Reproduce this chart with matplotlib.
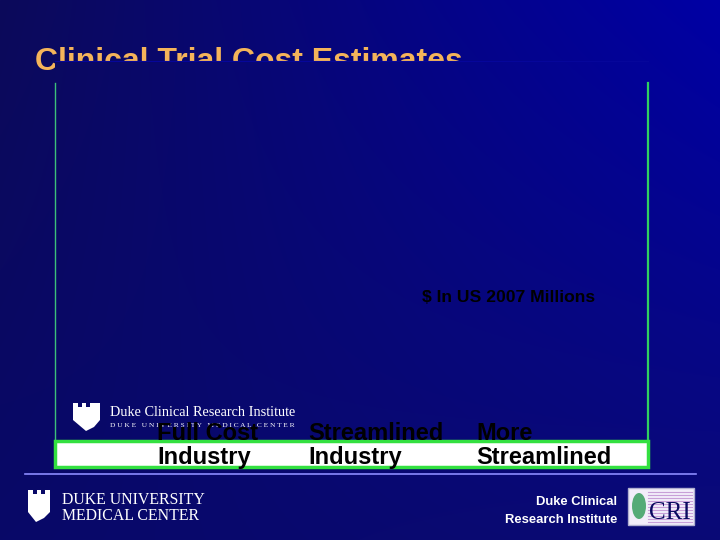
import numpy as np
import matplotlib
matplotlib.use("Agg")
import matplotlib.pyplot as plt
from matplotlib.patches import Rectangle, Polygon, Ellipse

plt.rcParams['font.family'] = ['Liberation Sans', 'DejaVu Sans']

# chart content
title = "Clinical Trial Cost Estimates"
categories = ["Full Cost\nIndustry", "Streamlined\nIndustry", "More\nStreamlined"]
unit_label = "$ In US 2007 Millions"

W, H = 720, 540
fig = plt.figure(figsize=(7.2, 5.4), dpi=100)

# background slide, pixel coordinates
bg = fig.add_axes([0, 0, 1, 1], zorder=-5)
bg.set_xlim(0, W)
bg.set_ylim(H, 0)
bg.axis("off")

# blue gradient (top-left dark, right brighter), one value per pixel
tl = np.array([12, 10, 90]) / 255
tr = np.array([0, 0, 165]) / 255
bl = np.array([8, 8, 104]) / 255
br = np.array([10, 10, 118]) / 255
gx = np.linspace(0, 1, W)[None, :, None]
gy = np.linspace(0, 1, H)[:, None, None]
grad = (tl * (1 - gx) + tr * gx) * (1 - gy) + (bl * (1 - gx) + br * gx) * gy
bg.imshow(grad, extent=(0, W, H, 0), aspect="auto", interpolation="nearest", zorder=0)

# title, partly covered by the chart panel
bg.text(35, 70, title, color="#f4b45a", fontsize=23, fontweight="bold",
        ha="left", va="baseline", zorder=2)

# chart panel: same gradient, opaque, drawn over the title
x0, x1, y0, y1 = 55, 648, 61, 468
bg.imshow(grad[y0:y1, x0:x1], extent=(x0, x1, y1, y0), aspect="auto",
          interpolation="nearest", zorder=3)
bg.plot([x0, x1], [y0, y0], color="#06069a", lw=0.8, zorder=4)

# green border and white strip
bg.plot([x0, x0], [83, 441], color="#3cc07a", lw=1.0, zorder=4)
bg.plot([x1, x1], [83, 441], color="#30d060", lw=1.6, zorder=4)
bg.add_patch(Rectangle((x0, 441), x1 - x0, 26, facecolor="white",
                       edgecolor="#33e040", lw=2.5, zorder=4))

# inner logo
shield = [(73, 403), (78, 403), (78, 407), (82, 407), (82, 403), (86, 403), (86, 407),
          (90, 407), (90, 403), (100, 403), (100, 420), (94, 427), (86, 431), (73, 420)]
bg.add_patch(Polygon(shield, closed=True, facecolor="white", edgecolor="none", zorder=4))
bg.text(110, 416, "Duke Clinical Research Institute", family="Liberation Serif",
        color="white", fontsize=10.3, ha="left", va="baseline", zorder=5)
bg.text(110, 427, "D U K E   U N I V E R S I T Y   M E D I C A L   C E N T E R",
        family="Liberation Serif", color="white", fontsize=5.3, ha="left",
        va="baseline", zorder=5)

# footer
bg.plot([25, 696], [474, 474], color="#8c8cff", lw=1.2, zorder=4)
shield2 = [(28, 490), (33, 490), (33, 494), (37, 494), (37, 490), (41, 490), (41, 494),
           (45, 494), (45, 490), (50, 490), (50, 512), (44, 518), (36, 522), (28, 512)]
bg.add_patch(Polygon(shield2, closed=True, facecolor="white", edgecolor="none", zorder=4))
bg.text(62, 504, "DUKE UNIVERSITY", family="Liberation Serif", color="white",
        fontsize=11.4, ha="left", va="baseline", zorder=5)
bg.text(62, 520, "MEDICAL CENTER", family="Liberation Serif", color="white",
        fontsize=11.4, ha="left", va="baseline", zorder=5)
bg.text(617, 505, "Duke Clinical", color="white", fontsize=9.4, fontweight="bold",
        ha="right", va="baseline", zorder=5)
bg.text(617, 523, "Research Institute", color="white", fontsize=9.4, fontweight="bold",
        ha="right", va="baseline", zorder=5)
bg.add_patch(Rectangle((628, 488), 66, 37, facecolor="#f2eefa", edgecolor="#b0b0d0",
                       lw=1, zorder=4))
for sy in np.arange(492, 524, 3):
    bg.plot([648, 692], [sy, sy], color="#c8a0d8", lw=0.8, zorder=5)
bg.add_patch(Ellipse((639, 506), 14, 26, facecolor="#3aa060", edgecolor="none",
                     alpha=0.85, zorder=5))
bg.text(670, 519, "CRI", family="Liberation Serif", color="#0a0a60", fontsize=18,
        ha="center", va="baseline", zorder=6)

# chart axes
ax = fig.add_axes([x0 / W, 1 - y1 / H, (x1 - x0) / W, (y1 - y0) / H], zorder=1)
ax.set_facecolor("none")
for s in ax.spines.values():
    s.set_visible(False)
ax.set_xlim(0, 1)
ax.set_ylim(0, 1)
ax.set_yticks([])
label_x = [(157 - x0) / (x1 - x0), (308 - x0) / (x1 - x0), (476 - x0) / (x1 - x0)]
ax.set_xticks(label_x, categories, ha="left", fontsize=17, fontweight="bold",
              color="black", linespacing=1.05)
ax.tick_params(axis="x", length=0, pad=-33)
ax.text((509 - x0) / (x1 - x0), (y1 - 297) / (y1 - y0), unit_label,
        transform=ax.transAxes, ha="center", va="center", fontsize=12.6,
        fontweight="bold", color="black")

fig.savefig("out.png", dpi=100)
